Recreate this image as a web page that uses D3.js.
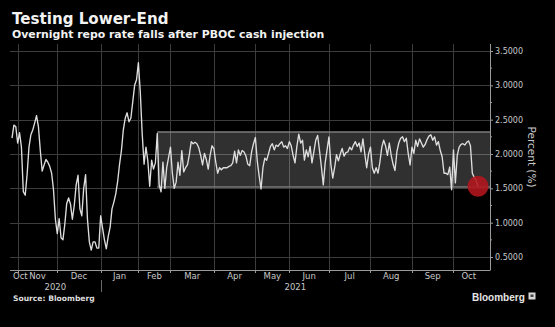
<!DOCTYPE html>
<html>
<head>
<meta charset="utf-8">
<script src="https://cdn.jsdelivr.net/npm/d3@7"></script>
<style>
  html, body { margin: 0; padding: 0; background: #000; }
  svg { display: block; }
</style>
</head>
<body>
<svg id="chart" width="555" height="327"></svg>
<script>
// Overnight repo rate, one value per trading day (Oct 2020 - Oct 2021), percent
const rate = [
  2.23, 2.42, 2.40, 2.16, 2.31, 2.10, 1.45, 1.40, 1.70, 2.10,
  2.28, 2.35, 2.45, 2.56, 2.40, 2.05, 1.75, 1.84, 1.92, 1.88,
  1.82, 1.72, 1.48, 1.05, 0.84, 1.06, 0.78, 0.75, 0.98, 1.28,
  1.36, 1.27, 1.05, 1.25, 1.55, 1.69, 1.20, 1.10, 1.50, 1.70,
  1.05, 0.72, 0.60, 0.72, 0.72, 0.63, 0.63, 1.10, 0.92, 0.75,
  0.62, 0.80, 0.93, 1.20, 1.30, 1.42, 1.60, 1.85, 2.05, 2.35,
  2.52, 2.60, 2.47, 2.52, 2.76, 3.00, 3.08, 3.33, 2.90, 2.30,
  1.85, 2.10, 1.90, 1.53, 1.91, 1.78, 1.87, 2.30, 1.55, 1.45,
  1.88, 1.50, 1.80, 1.95, 2.10, 1.72, 1.50, 1.59, 1.88, 1.69,
  2.05, 1.74, 1.80, 1.84, 1.99, 2.18, 2.15, 2.17, 2.15, 2.09,
  1.98, 1.84, 2.01, 1.92, 1.78, 1.98, 2.12, 2.08, 1.88, 1.72,
  1.80, 1.77, 1.80, 1.80, 1.80, 1.82, 1.83, 1.87, 2.04, 1.87,
  2.06, 1.98, 2.05, 2.03, 1.97, 1.85, 1.83, 2.03, 2.15, 2.24,
  1.90, 1.68, 1.49, 1.80, 1.94, 1.91, 2.01, 2.11, 2.15, 2.06,
  2.13, 2.11, 2.15, 2.18, 2.10, 2.12, 2.08, 2.18, 2.12, 1.98,
  1.87, 2.11, 2.29, 2.16, 2.20, 1.91, 2.06, 1.96, 2.11, 1.87,
  2.03, 2.20, 2.27, 2.05, 1.81, 1.55, 1.87, 2.06, 2.25, 1.85,
  1.65, 1.80, 1.99, 1.90, 2.00, 2.08, 1.97, 2.02, 2.03, 2.10,
  2.06, 2.13, 2.18, 2.11, 2.16, 2.03, 2.22, 2.00, 1.80, 2.00,
  2.10, 1.80, 1.72, 1.80, 1.72, 1.88, 2.10, 2.20, 2.12, 1.98,
  2.16, 1.98, 1.85, 1.76, 2.03, 2.16, 2.23, 2.25, 2.18, 2.23,
  2.01, 1.84, 2.10, 2.01, 2.20, 2.11, 2.22, 2.16, 2.10, 2.14,
  2.21, 2.26, 2.28, 2.20, 2.25, 2.13, 2.18, 2.05, 1.96, 1.72,
  1.72, 1.70, 1.81, 1.48, 2.06, 1.58, 1.98, 2.10, 2.14, 2.15,
  2.13, 2.17, 2.19, 2.12, 1.72, 1.66, 1.62, 1.53
];

// Month labels and the index of each month's first trading day in `rate`
const monthLabels = ["Oct", "Nov", "Dec", "Jan", "Feb", "Mar", "Apr", "May", "Jun", "Jul", "Aug", "Sep", "Oct"];
const monthStart  = [0, 3, 24, 47, 67, 84, 107, 129, 147, 168, 190, 212, 234];

const yearLabels = ["2020", "2021"];
const yearStart  = [0, 47];

const yTicks = [0.5, 1.0, 1.5, 2.0, 2.5, 3.0, 3.5];
const yMinorTicks = [0.75, 1.25, 1.75, 2.25, 2.75, 3.25];

// Trading range highlighted from mid-February onward
const rangeLow = 1.52;
const rangeHigh = 2.32;
const rangeStartIndex = 77;

const titleText = "Testing Lower-End";
const subtitleText = "Overnight repo rate falls after PBOC cash injection";
const sourceText = "Source: Bloomberg";
const yAxisTitle = "Percent (%)";

// ---- layout ----
const plot = { left: 10, right: 490, top: 44, bottom: 270 };
const svg = d3.select("#chart");
const FONT = "'DejaVu Sans', Verdana, sans-serif";

svg.append("rect").attr("width", 555).attr("height", 327).attr("fill", "#000");

const x = d3.scaleLinear().domain([0, rate.length - 1]).range([12, 478]);
const y = d3.scaleLinear().domain([0.5, 3.5]).range([257, 51]);

// ---- titles ----
svg.append("text").attr("x", 12).attr("y", 24)
  .attr("font-family", FONT).attr("font-weight", "bold").attr("font-size", 15.1)
  .attr("fill", "#f2f2f2").text(titleText);
svg.append("text").attr("x", 12).attr("y", 37.5)
  .attr("font-family", FONT).attr("font-weight", "bold").attr("font-size", 10.9)
  .attr("fill", "#f2f2f2").text(subtitleText);

// ---- grid ----
const grid = svg.append("g").attr("stroke", "#3c3c3c").attr("stroke-width", 1);
grid.selectAll("line.h").data(yTicks).join("line")
  .attr("x1", plot.left).attr("x2", plot.right)
  .attr("y1", d => Math.round(y(d)) + 0.5).attr("y2", d => Math.round(y(d)) + 0.5);
grid.selectAll("line.v").data(monthStart.slice(1)).join("line")
  .attr("x1", d => Math.round(x(d)) + 0.5).attr("x2", d => Math.round(x(d)) + 0.5)
  .attr("y1", plot.top).attr("y2", plot.bottom);

// ---- trading range band ----
svg.append("rect")
  .attr("x", x(rangeStartIndex)).attr("y", y(rangeHigh))
  .attr("width", plot.right - x(rangeStartIndex)).attr("height", y(rangeLow) - y(rangeHigh))
  .attr("fill", "#ffffff").attr("fill-opacity", 0.19);
svg.selectAll("line.band").data([rangeHigh, rangeLow]).join("line")
  .attr("x1", x(rangeStartIndex)).attr("x2", plot.right)
  .attr("y1", d => y(d)).attr("y2", d => y(d))
  .attr("stroke", "#7c7c7c").attr("stroke-width", 1.5);

// ---- rate line ----
const line = d3.line().x((d, i) => x(i)).y(d => y(d));
svg.append("path").datum(rate)
  .attr("d", line)
  .attr("fill", "none").attr("stroke", "#dedede")
  .attr("stroke-width", 1.35).attr("stroke-linejoin", "round");

// latest value marker
const last = rate.length - 1;
svg.append("circle")
  .attr("cx", x(last)).attr("cy", y(rate[last])).attr("r", 10.5)
  .attr("fill", "#b3161c").attr("fill-opacity", 0.88);

// ---- y axis (right) ----
const yAxis = d3.axisRight(y).tickValues(yTicks).tickFormat(d3.format(".4f")).tickSize(3).tickPadding(2);
const gy = svg.append("g").attr("transform", `translate(${plot.right},0)`).call(yAxis);
gy.select(".domain").remove();
gy.selectAll(".tick line").attr("stroke", "#9a9a9a");
gy.selectAll(".tick text").attr("fill", "#c8c8c8").attr("font-family", FONT).attr("font-size", 8);
gy.selectAll("line.minor").data(yMinorTicks).join("line")
  .attr("x1", 0).attr("x2", 2)
  .attr("y1", d => y(d)).attr("y2", d => y(d))
  .attr("stroke", "#9a9a9a");
svg.append("line")
  .attr("x1", plot.right + 0.5).attr("x2", plot.right + 0.5)
  .attr("y1", plot.top).attr("y2", plot.bottom)
  .attr("stroke", "#9a9a9a");
svg.append("text")
  .attr("transform", `translate(528,157) rotate(90)`)
  .attr("text-anchor", "middle")
  .attr("font-family", FONT).attr("font-size", 10.5).attr("fill", "#c8c8c8")
  .text(yAxisTitle);

// ---- x axis ----
svg.append("line")
  .attr("x1", plot.left).attr("x2", plot.right + 0.5)
  .attr("y1", plot.bottom + 0.5).attr("y2", plot.bottom + 0.5)
  .attr("stroke", "#9a9a9a");
svg.selectAll("line.xtick").data(monthStart.slice(1)).join("line")
  .attr("x1", d => Math.round(x(d)) + 0.5).attr("x2", d => Math.round(x(d)) + 0.5)
  .attr("y1", plot.bottom).attr("y2", plot.bottom + 3)
  .attr("stroke", "#9a9a9a");

// month labels centred on each month's span
const monthEnds = monthStart.slice(1).map(d => x(d)).concat([x(last) + 6]);
const monthG = svg.append("g").attr("font-family", FONT).attr("font-size", 8.5).attr("fill", "#c8c8c8");
monthG.selectAll("text").data(monthLabels).join("text")
  .attr("y", 279)
  .attr("text-anchor", "middle")
  .text(d => d)
  .attr("x", function (d, i) {
    const start = i === 0 ? plot.left : x(monthStart[i]);
    const mid = (start + monthEnds[i]) / 2;
    const half = this.getComputedTextLength() / 2;
    return Math.max(mid, plot.left + half + 3);
  });

// year labels and separator
const yearEdges = yearStart.map((d, i) => i === 0 ? plot.left : x(d)).concat([plot.right]);
svg.selectAll("text.year").data(yearLabels).join("text")
  .attr("x", (d, i) => (yearEdges[i] + yearEdges[i + 1]) / 2)
  .attr("y", 289.5)
  .attr("text-anchor", "middle")
  .attr("font-family", FONT).attr("font-size", 8.5).attr("fill", "#c8c8c8")
  .text(d => d);
svg.selectAll("line.yearsep").data(yearStart.slice(1)).join("line")
  .attr("x1", d => Math.round(x(d)) + 0.5).attr("x2", d => Math.round(x(d)) + 0.5)
  .attr("y1", 280).attr("y2", 292)
  .attr("stroke", "#6a6a6a");

// ---- footer ----
svg.append("text").attr("x", 13).attr("y", 300.5)
  .attr("font-family", FONT).attr("font-weight", "bold").attr("font-size", 7.6)
  .attr("fill", "#dcdcdc").text(sourceText);

svg.append("text").attr("x", 472).attr("y", 301)
  .attr("font-family", "'Liberation Sans', Arial, sans-serif").attr("font-weight", "bold")
  .attr("font-size", 10).attr("fill", "#e6e6e6").text("Bloomberg");
svg.append("rect").attr("x", 528.5).attr("y", 292.5).attr("width", 7).attr("height", 7)
  .attr("fill", "#d8d8d8");
svg.append("rect").attr("x", 530.5).attr("y", 294.5).attr("width", 3).attr("height", 2.5)
  .attr("fill", "#444");
</script>
</body>
</html>
